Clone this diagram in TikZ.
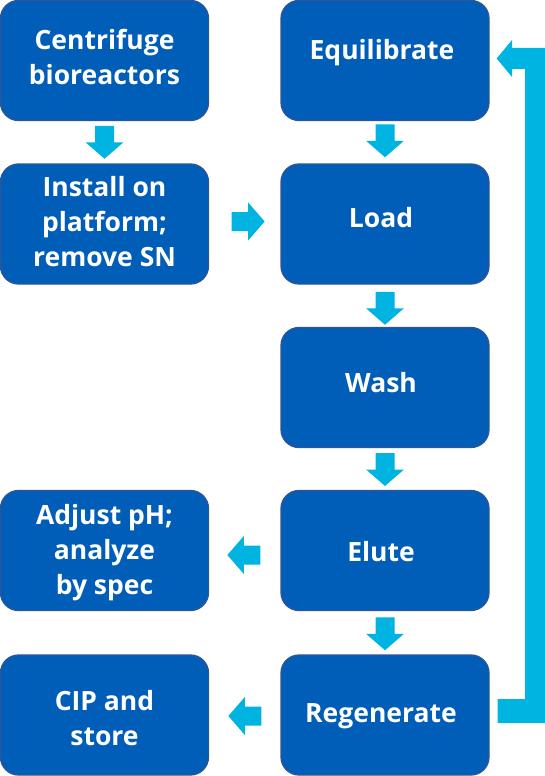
\documentclass[tikz,border=0pt]{standalone}
\usepackage{fontspec}
\setmainfont{Open Sans}
\usetikzlibrary{calc}
\definecolor{boxfill}{HTML}{005EB8}
\definecolor{boxline}{HTML}{2F5597}
\definecolor{arrcol}{HTML}{00B4E1}
\begin{document}
\begin{tikzpicture}[x=1pt,y=-1pt,
 box/.style={draw=boxline, line width=1.3pt, fill=boxfill, rounded corners=18pt, minimum width=208pt, minimum height=120pt, inner sep=0pt},
 txt/.style={text=white, font=\fontsize{26.5}{35}\selectfont\bfseries, align=center, inner sep=0pt},
 blkarrow/.pic={\fill[arrcol] (0,-9.5) -- (16.5,-9.5) -- (16.5,-19) -- (33,0) -- (16.5,19) -- (16.5,9.5) -- (0,9.5) -- cycle;}
]
\useasboundingbox (0,0) rectangle (545,776);
% boxes
\node[box] (cen) at (104.5,60.5) {};
\node[box] (ins) at (104.5,224) {};
\node[box] (adj) at (104.5,550.5) {};
\node[box] (cip) at (104.5,715) {};
\node[box] (equ) at (385,60.5) {};
\node[box] (lod) at (385,224) {};
\node[box] (wsh) at (385,387.5) {};
\node[box] (elu) at (385,550.5) {};
\node[box] (reg) at (385,715) {};
% texts
\node[txt] (cenT) at ($(cen)+(0,-4)$) {Centrifuge\\bioreactors};
\node[txt] (insT) at ($(ins)+(0,-2)$) {Install on\\platform;\\remove SN};
\node[txt] (adjT) at ($(adj)+(0,2)$) {Adjust pH;\\analyze\\by spec};
\node[txt] (cipT) at ($(cip)+(0,3)$) {CIP and\\store};
\node[txt] (equT) at ($(equ)+(-3,-7.5)$) {Equilibrate};
\node[txt] (lodT) at ($(lod)+(-4,-6.5)$) {Load};
\node[txt] (wshT) at ($(wsh)+(-4,-4.5)$) {Wash};
\node[txt] (eluT) at ($(elu)+(-4,1.5)$) {Elute};
\node[txt] (regT) at ($(reg)+(-4,1)$) {Regenerate};
% down arrows
\pic[rotate=-90] at ($(cen.south)!0.5!(ins.north)+(0,-16.5)$) {blkarrow};
\pic[rotate=-90] at ($(equ.south)!0.5!(lod.north)+(0,-18)$) {blkarrow};
\pic[rotate=-90] at ($(lod.south)!0.5!(wsh.north)+(0,-14)$) {blkarrow};
\pic[rotate=-90] at ($(wsh.south)!0.5!(elu.north)+(0,-16)$) {blkarrow};
\pic[rotate=-90] at ($(elu.south)!0.5!(reg.north)+(0,-15.5)$) {blkarrow};
% side arrows
\pic at ($(ins.east)+(22.5,-2.5)$) {blkarrow};
\pic[rotate=180] at ($(elu.west)+(-20,4.5)$) {blkarrow};
\pic[rotate=180] at ($(reg.west)+(-19,1)$) {blkarrow};
% feedback loop
\fill[arrcol] ($(reg.east)+(8,-16)$) -- (525,699) -- (525,69) -- (512,69) -- (512,77)
  -- ($(equ.east)+(7,-2)$) -- (512,40) -- (512,48) -- (547,48) -- (547,723)
  -- ($(reg.east)+(8,8)$) -- cycle;
\end{tikzpicture}
\end{document}
